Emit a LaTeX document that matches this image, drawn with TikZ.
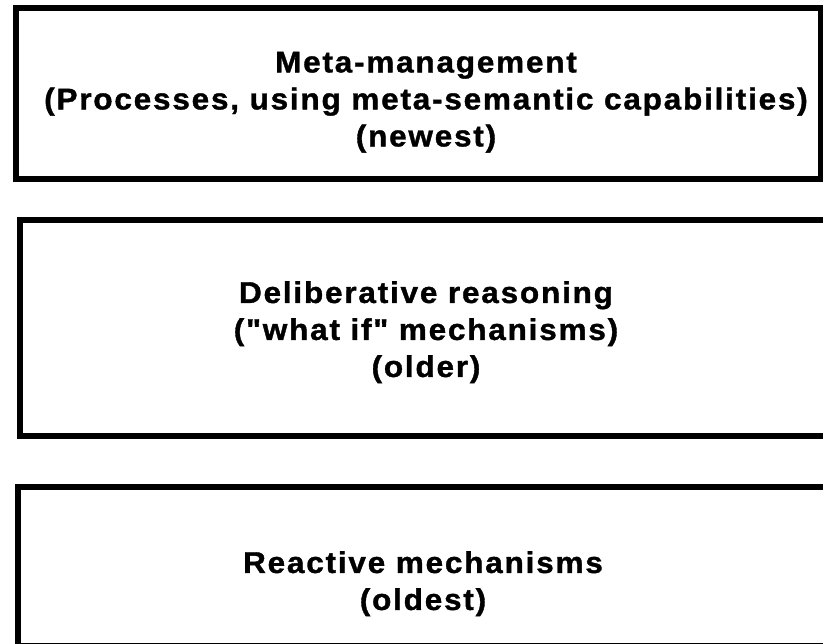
\documentclass[tikz,border=0pt]{standalone}
\usepackage{fontspec}
\newfontfamily\layerfont{Liberation Sans}[BoldFeatures={FakeBold=1.2}, FakeStretch=1.05, LetterSpace=6]
\begin{document}
\begin{tikzpicture}[x=1pt,y=-1pt,
  layer/.style={draw=black, line width=6pt, fill=white, inner sep=0pt, outer sep=0pt, rectangle},
  layertext/.style={inner sep=0pt, align=center,
    font=\layerfont\fontsize{30}{37}\selectfont\bfseries}]
  \useasboundingbox (0,0) rectangle (823,644);
  \clip (0,0) rectangle (823,644);
  % three stacked layers, newest on top
  \node[layer, minimum width=805pt, minimum height=171pt] (meta) at (418.5,94) {};
  \node[layer, minimum width=820pt, minimum height=215.5pt] (delib) at (430,328.25) {};
  \node[layer, minimum width=822pt, minimum height=158.5pt] (react) at (429,566.75) {};
  % layer labels
  \node[layertext] (metatext) at (426,102.2)
    {Meta-management\\(Processes, using meta-semantic capabilities)\\(newest)};
  \node[layertext] (delibtext) at (426,332.2)
    {Deliberative reasoning\\("what if" mechanisms)\\(older)};
  \node[layertext] (reacttext) at (423,583.7)
    {Reactive mechanisms\\(oldest)};
\end{tikzpicture}
\end{document}
